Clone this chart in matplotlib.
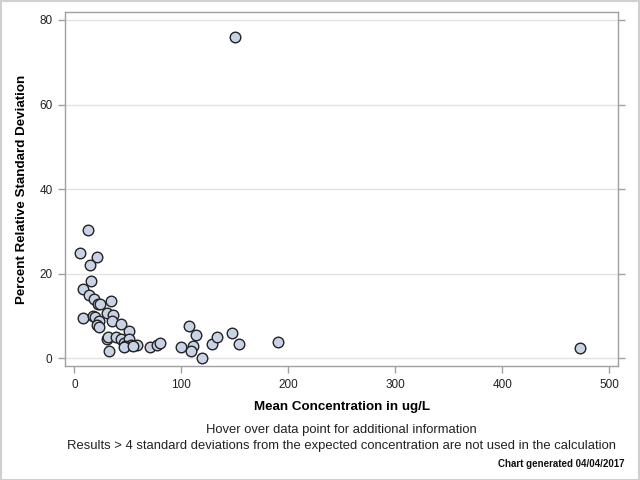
import matplotlib.pyplot as plt
import matplotlib.patches as patches

plt.rcParams['font.family'] = ['Liberation Sans', 'DejaVu Sans']

# mean concentration (ug/L) and percent RSD
mean_conc = [12.5, 5.6, 21.5, 15.0, 15.9, 8.4, 14.0, 18.7, 21.9, 24.3,
             34.3, 8.4, 17.8, 19.6, 23.4, 20.9, 23.4, 30.3, 36.4, 35.0,
             43.6, 51.4, 30.3, 31.8, 32.7, 39.0, 43.4, 46.4, 51.1, 52.7,
             47.4, 46.7, 58.9, 55.0, 71.0, 77.6, 79.8, 100.0, 107.5, 114.0,
             111.2, 109.1, 119.3, 129.0, 133.6, 147.7, 153.9, 190.7, 472.6, 150.2]
pct_rsd = [30.3, 24.9, 24.0, 22.1, 18.3, 16.4, 15.0, 14.0, 12.8, 12.8,
           13.5, 9.5, 10.0, 9.8, 8.7, 7.8, 7.3, 10.6, 10.3, 8.8,
           8.0, 6.5, 4.6, 5.1, 1.7, 5.1, 4.6, 3.7, 4.5, 3.1,
           3.0, 2.6, 3.1, 3.0, 2.6, 3.1, 3.5, 2.6, 7.6, 5.5,
           3.0, 1.7, 0.0, 3.4, 5.0, 6.0, 3.4, 3.9, 2.4, 76.0]

x_ticks = [0, 100, 200, 300, 400, 500]
y_ticks = [0, 20, 40, 60, 80]

frame_col = '#a0a0a0'

fig = plt.figure(figsize=(6.4, 4.8), dpi=100)
ax = fig.add_axes([0.1016, 0.2365, 0.8640, 0.7391])

ax.scatter(mean_conc, pct_rsd, s=58, facecolor='#c8d4e6', edgecolor='#222222',
           linewidth=1.0, zorder=3)

ax.set_xlim(-8.7, 508.1)
ax.set_ylim(-1.94, 81.96)
ax.set_xticks(x_ticks)
ax.set_yticks(y_ticks)
ax.yaxis.grid(True, color='#e2e2e2', linewidth=1.0, zorder=0)
ax.set_axisbelow(True)

for side in ax.spines.values():
    side.set_color(frame_col)
    side.set_linewidth(1.0)

ax.tick_params(axis='both', direction='out', length=5, width=1.0, color=frame_col,
               labelsize=8.5, labelcolor='#222222', pad=4)
ax.tick_params(axis='y', right=True)

ax.set_xlabel('Mean Concentration in ug/L', fontsize=9.6, fontweight='bold', labelpad=7)
ax.set_ylabel('Percent Relative Standard Deviation', fontsize=9.6, fontweight='bold', labelpad=8)

fig.text(0.5336, 1 - 430 / 480, 'Hover over data point for additional information',
         ha='center', va='center', fontsize=9.4, color='#222222')
fig.text(0.5336, 1 - 446 / 480,
         'Results > 4 standard deviations from the expected concentration are not used in the calculation',
         ha='center', va='center', fontsize=9.4, color='#222222')
fig.text(625 / 640, 1 - 464 / 480, 'Chart generated 04/04/2017',
         ha='right', va='center', fontsize=7, fontweight='bold', color='#111111')

# light border round the whole picture
fig.patches.append(patches.Rectangle((0.001, 0.001), 0.997, 0.997, transform=fig.transFigure,
                                     fill=False, edgecolor='#d0d0d0', linewidth=1.5))

fig.savefig('out.png', dpi=100)
